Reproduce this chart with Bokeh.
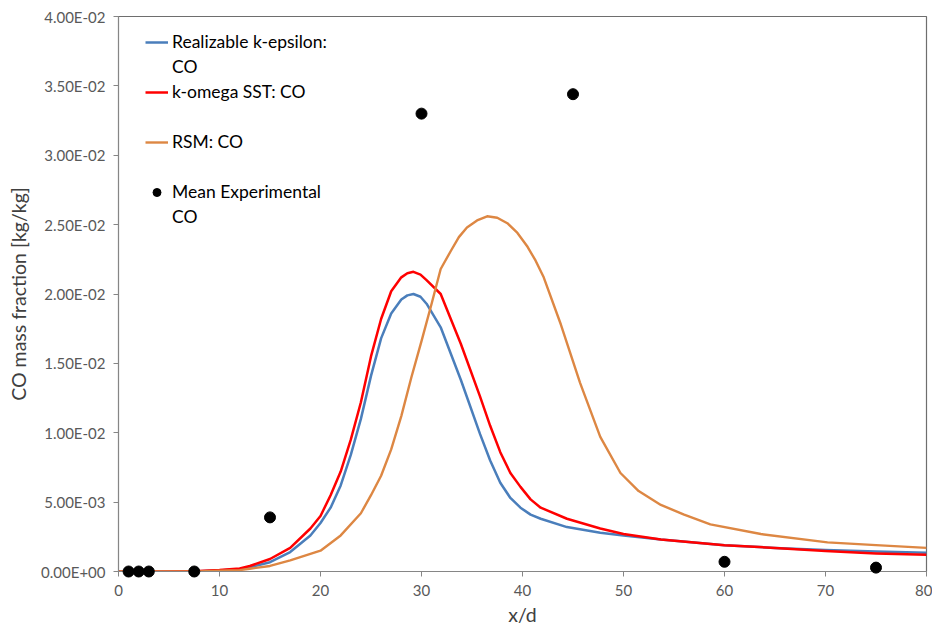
from bokeh.plotting import figure
from bokeh.models import Range1d, FixedTicker, Legend, LegendItem
from bokeh.embed import file_html
from bokeh.resources import INLINE

# Realizable k-epsilon: CO
x_rke = [0, 4, 8, 10, 12, 13, 15, 17, 19, 20, 21, 22, 23, 24, 25, 26, 27, 28, 28.6, 29.2, 29.9, 30.5, 31.9, 33.9,
         35.8, 36.8, 37.8, 38.8, 39.8, 40.8, 41.8, 44.4, 47.7, 50, 53.7, 60, 65, 70, 75, 80]
y_rke = [0, 0, 0.00002, 0.00008, 0.00018, 0.0003, 0.00067, 0.0014, 0.0026, 0.0035, 0.0046, 0.0062, 0.0084,
         0.0110, 0.0141, 0.0168, 0.0186, 0.0196, 0.0199, 0.0200, 0.0198, 0.0193, 0.0176, 0.0138,
         0.0099, 0.0080, 0.0064, 0.0053, 0.0046, 0.0041, 0.0038, 0.0032, 0.0028, 0.0026, 0.0023, 0.0019,
         0.0017, 0.00155, 0.00145, 0.00135]
# k-omega SST: CO
x_sst = [0, 4, 8, 10, 12, 13, 15, 17, 19, 20, 21, 22, 23, 24, 25, 26, 27, 28, 28.6, 29.2, 29.9, 30.5, 31.9, 33.9,
         35.8, 36.8, 37.8, 38.8, 39.8, 40.8, 41.8, 44.4, 47.7, 50, 53.7, 60, 65, 70, 75, 80]
y_sst = [0, 0, 0.00003, 0.0001, 0.00022, 0.0004, 0.0009, 0.0017, 0.0031, 0.0040, 0.0055, 0.0072, 0.0095,
         0.0122, 0.0155, 0.0182, 0.0202, 0.0212, 0.0215, 0.0216, 0.0214, 0.0210, 0.0200, 0.0164,
         0.0126, 0.0105, 0.0086, 0.0071, 0.0061, 0.0052, 0.0046, 0.0038, 0.0031, 0.0027, 0.0023, 0.0019,
         0.0017, 0.00147, 0.0013, 0.0012]
# RSM: CO
x_rsm = [0, 4, 8, 10, 12, 13, 15, 17, 20, 22, 24, 25, 26, 27, 28, 29, 30, 31, 31.9, 32.9, 33.7, 34.5, 35.5,
         36.5, 37.5, 38.5, 39.5, 40.5, 41.3, 42.1, 43.8, 45.7, 47.7, 49.7, 51.5, 53.7, 56, 58.6, 63.6, 70.2,
         75, 80]
y_rsm = [0, 0, 0.00001, 0.00005, 0.0001, 0.0002, 0.0004, 0.0008, 0.0015, 0.0026, 0.0042, 0.0055, 0.0069,
         0.0088, 0.0112, 0.0140, 0.0166, 0.0193, 0.0218, 0.0231, 0.0241, 0.0248, 0.0253, 0.0256, 0.0255,
         0.0251, 0.0244, 0.0234, 0.0224, 0.0212, 0.0178, 0.0136, 0.0097, 0.0071, 0.0058, 0.0048, 0.0041,
         0.0034, 0.0027, 0.0021, 0.0019, 0.0017]
# Mean Experimental CO
x_exp = [1, 2, 3, 7.5, 15, 30, 45, 60, 75]
y_exp = [0, 0, 0, 0, 0.0039, 0.0330, 0.0344, 0.0007, 0.00028]

x_ticks = [0, 10, 20, 30, 40, 50, 60, 70, 80]
y_ticks = [0, 0.005, 0.01, 0.015, 0.02, 0.025, 0.03, 0.035, 0.04]
y_tick_labels = ["0.00E+00", "5.00E-03", "1.00E-02", "1.50E-02", "2.00E-02",
                 "2.50E-02", "3.00E-02", "3.50E-02", "4.00E-02"]

FONT = "Lato"
AX = "#868686"

p = figure(width=932, height=632, output_backend="svg", toolbar_location=None,
           x_range=Range1d(0, 80), y_range=Range1d(0, 0.04),
           min_border_left=118, min_border_right=6, min_border_top=16, min_border_bottom=61)
p.xgrid.visible = False
p.ygrid.visible = False
p.outline_line_color = "#6e6e6e"
p.outline_line_width = 1.2
p.background_fill_color = "white"
p.border_fill_color = "white"

for ax in (p.xaxis[0], p.yaxis[0]):
    ax.axis_line_color = AX
    ax.major_tick_line_color = AX
    ax.major_tick_out = 5
    ax.major_tick_in = 0
    ax.minor_tick_line_color = None
    ax.major_label_text_font = FONT
    ax.major_label_text_font_size = "15px"
    ax.major_label_text_color = "#595959"
    ax.axis_label_text_font = FONT
    ax.axis_label_text_font_size = "19.5px"
    ax.axis_label_text_font_style = "normal"
    ax.axis_label_text_color = "#404040"

p.xaxis.ticker = FixedTicker(ticks=x_ticks)
p.yaxis.ticker = FixedTicker(ticks=y_ticks)
p.yaxis.major_label_overrides = {t: l for t, l in zip(y_ticks, y_tick_labels)}
p.xaxis.axis_label = "x/d"
p.yaxis.axis_label = "CO mass fraction [kg/kg]"
p.xaxis.major_label_standoff = 8
p.yaxis.major_label_standoff = 8
p.xaxis.axis_label_standoff = 4
p.yaxis.axis_label_standoff = 8

r1 = p.line(x_rke, y_rke, line_color="#4A7EBB", line_width=2.5, line_join="round")
r2 = p.line(x_sst, y_sst, line_color="#FF0000", line_width=2.5, line_join="round")
r3 = p.line(x_rsm, y_rsm, line_color="#DD8743", line_width=2.4, line_join="round")
r4 = p.scatter(x_exp, y_exp, size=11, marker="circle", fill_color="black", line_color="black", level="overlay")

legend = Legend(items=[
    LegendItem(label="Realizable k-epsilon:", renderers=[r1]),
    LegendItem(label="CO", renderers=[]),
    LegendItem(label="k-omega SST: CO", renderers=[r2]),
    LegendItem(label=" ", renderers=[]),
    LegendItem(label="RSM: CO", renderers=[r3]),
    LegendItem(label=" ", renderers=[]),
    LegendItem(label="Mean Experimental", renderers=[r4]),
    LegendItem(label="CO", renderers=[]),
], location=(27, 342))
legend.border_line_color = None
legend.background_fill_alpha = 0
legend.label_text_font = FONT
legend.label_text_font_size = "17.5px"
legend.label_text_color = "#000000"
legend.glyph_width = 23
legend.glyph_height = 20
legend.label_height = 25
legend.label_standoff = 4
legend.spacing = 0
legend.margin = 0
legend.padding = 0
p.add_layout(legend)

open("out.html", "w").write(file_html(p, INLINE))
